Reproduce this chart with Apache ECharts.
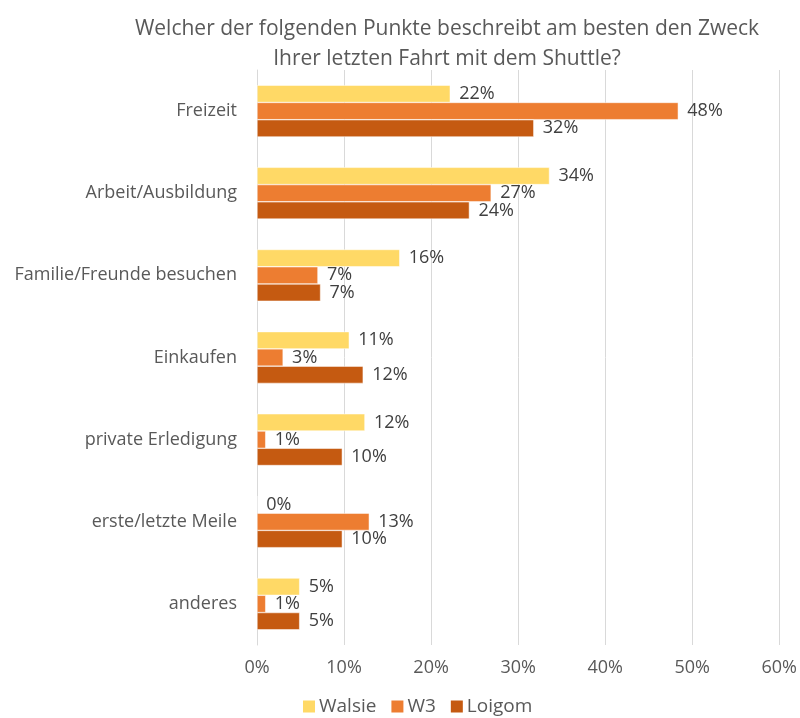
<!DOCTYPE html>
<html>
<head>
<meta charset="utf-8">
<script src="https://cdn.jsdelivr.net/npm/echarts@6/dist/echarts.min.js"></script>
<style>
  html, body { margin: 0; padding: 0; background: #fff; }
  #main { width: 800px; height: 718px; }
</style>
</head>
<body>
<div id="main"></div>
<script>
// categories (top to bottom)
var categories = ['Freizeit', 'Arbeit/Ausbildung', 'Familie/Freunde besuchen', 'Einkaufen', 'private Erledigung', 'erste/letzte Meile', 'anderes'];
// values in percent
var walsie = [22.2, 33.6, 16.4, 10.6, 12.4, 0, 4.9];
var w3 = [48.4, 26.9, 7.0, 3.0, 1.0, 12.9, 1.0];
var loigom = [31.8, 24.4, 7.3, 12.2, 9.8, 9.8, 4.9];
var seriesNames = ['Walsie', 'W3', 'Loigom'];
var colors = ['#FFD966', '#ED7D31', '#C55A11'];

var font = '"Open Sans", sans-serif';
var chart = echarts.init(document.getElementById('main'));

function makeSeries(name, data, color) {
    return {
        name: name,
        type: 'bar',
        data: data,
        barGap: '0%',
        barCategoryGap: '37%',
        itemStyle: { color: color, borderColor: '#fff', borderWidth: 0.5 },
        label: {
            show: true,
            position: 'right',
            distance: 9,
            color: '#404040',
            fontSize: 18,
            fontFamily: font,
            formatter: function (p) { return Math.round(p.value) + '%'; }
        }
    };
}

var option = {
    color: colors,
    title: {
        text: 'Welcher der folgenden Punkte beschreibt am besten den Zweck\nIhrer letzten Fahrt mit dem Shuttle?',
        left: 442,
        textAlign: 'center',
        top: 9,
        textStyle: { color: '#595959', fontSize: 21, fontWeight: 'normal', fontFamily: font, lineHeight: 30 }
    },
    legend: {
        bottom: -3,
        left: 296,
        itemWidth: 14,
        itemHeight: 14,
        itemGap: 13,
        icon: 'rect',
        textStyle: { color: '#595959', fontSize: 19, fontFamily: font, padding: [0, 0, 0, -2] },
        data: seriesNames
    },
    grid: { left: 257, right: 19, top: 70, bottom: 73 },
    xAxis: {
        type: 'value',
        min: 0,
        max: 60,
        interval: 10,
        axisLine: { show: false },
        axisTick: { show: false },
        splitLine: { lineStyle: { color: '#D9D9D9', width: 1 } },
        axisLabel: { color: '#595959', fontSize: 18, fontFamily: font, margin: 14, formatter: '{value}%' }
    },
    yAxis: {
        type: 'category',
        inverse: true,
        data: categories,
        axisLine: { show: true, lineStyle: { color: '#D9D9D9' } },
        axisTick: { show: false },
        axisLabel: { color: '#595959', fontSize: 18, fontFamily: font, margin: 20 }
    },
    series: [
        makeSeries(seriesNames[0], walsie, colors[0]),
        makeSeries(seriesNames[1], w3, colors[1]),
        makeSeries(seriesNames[2], loigom, colors[2])
    ]
};
chart.setOption(option);
</script>
</body>
</html>
